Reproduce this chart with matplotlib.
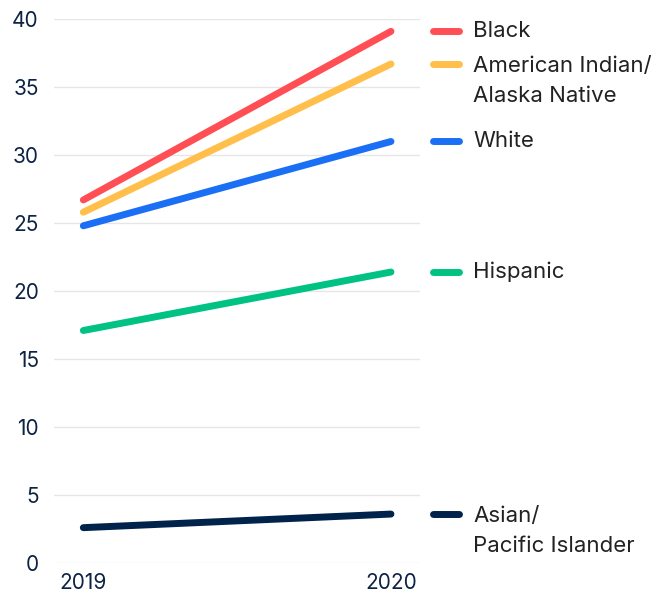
import matplotlib.pyplot as plt
from matplotlib.lines import Line2D

years = ['2019', '2020']
groups = ['Black', 'American Indian/\nAlaska Native', 'White', 'Hispanic', 'Asian/\nPacific Islander']
values = [
    [26.7, 39.1],
    [25.8, 36.7],
    [24.8, 31.0],
    [17.1, 21.4],
    [2.6, 3.6],
]
colors = ['#ff4f55', '#ffbf4a', '#1a6ff5', '#00c283', '#00234b']
yticks = [0, 5, 10, 15, 20, 25, 30, 35, 40]

plt.rcParams['font.family'] = ['Inter', 'DejaVu Sans']

fig = plt.figure(figsize=(6.68, 6.01), dpi=100)
ax = fig.add_axes([0.081, 0.0632, 0.548, 0.905])

x = range(len(years))
tr = ax.get_yaxis_transform()
for name, vals, c in zip(groups, values, colors):
    ax.plot(x, vals, color=c, lw=5, solid_capstyle='round')
    # легенда справа, на уровне последнего значения
    ax.add_line(Line2D([1.035, 1.105], [vals[-1], vals[-1]], transform=tr, color=c,
                       lw=5, solid_capstyle='round', clip_on=False))
    two_lines = '\n' in name
    ax.text(1.145, vals[-1] + (0.6 if two_lines else 0), name, transform=tr,
            va='top' if two_lines else 'center',
            fontsize=16, color='#222222', linespacing=1.65)

ax.set_xlim(-0.095, 1.095)
ax.set_ylim(0, 40)
ax.set_xticks(list(x))
ax.set_xticklabels(years)
ax.set_yticks(yticks)
ax.tick_params(length=0, labelsize=15, labelcolor='#0d2344', pad=7)
ax.tick_params(axis='y', pad=11)
ax.grid(axis='y', color='#e6e6e6', lw=1)
ax.set_axisbelow(True)
for s in ax.spines.values():
    s.set_visible(False)

fig.savefig('out.png', dpi=100)
